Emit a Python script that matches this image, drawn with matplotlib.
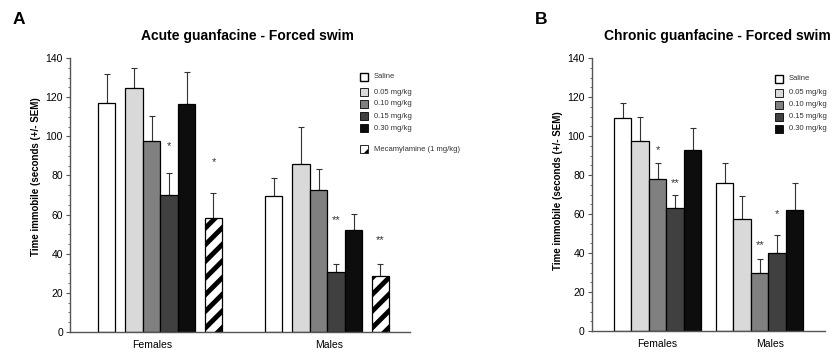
import matplotlib
matplotlib.use("Agg")
import matplotlib.pyplot as plt
from matplotlib.patches import Rectangle, Polygon
from matplotlib.ticker import MultipleLocator

plt.rcParams["font.family"] = ["Liberation Sans", "DejaVu Sans"]
plt.rcParams["hatch.linewidth"] = 3.5

# ---- data -------------------------------------------------------------
groups = ["Females", "Males"]
doses = ["Saline", "0.05 mg/kg", "0.10 mg/kg", "0.15 mg/kg", "0.30 mg/kg"]
dose_colors = ["white", "#d9d9d9", "#808080", "#404040", "#0d0d0d"]

# acute (panel A): rows = groups, cols = doses
acute_mean = [[117, 124.7, 97.5, 70, 116.5], [69.5, 86, 72.5, 30.5, 52]]
acute_top = [[132, 135, 110.5, 81, 133], [78.5, 105, 83.5, 34.5, 60.5]]
mec_mean = [58.5, 28.5]
mec_top = [71, 34.5]
acute_stars = [("*", 0, 3, 95), ("*", 0, 5, 87), ("**", 1, 3, 57), ("**", 1, 5, 47)]

# chronic (panel B)
chronic_mean = [[109.4, 97.5, 78, 63, 93], [76, 57.5, 30, 40, 62]]
chronic_top = [[117, 110, 86, 70, 104], [86, 69, 37, 49, 76]]
chronic_stars = [("*", 0, 2, 93), ("**", 0, 3, 76), ("**", 1, 2, 44), ("*", 1, 3, 60)]

ylabel = "Time immobile (seconds (+/- SEM)"


def style_axis(ax, xmax, label_x, label_y):
    ax.set_xlim(0, xmax)
    ax.set_ylim(0, 140)
    ax.yaxis.set_major_locator(MultipleLocator(20))
    ax.yaxis.set_minor_locator(MultipleLocator(5))
    for s in ["top", "right"]:
        ax.spines[s].set_visible(False)
    for s in ["left", "bottom"]:
        ax.spines[s].set_color("#555555")
        ax.spines[s].set_linewidth(1.0)
    ax.tick_params(axis="y", which="major", direction="out", length=3, width=0.8,
                   color="#555555", labelsize=7.5, pad=2)
    ax.tick_params(axis="y", which="minor", direction="out", length=1.5, width=0.6,
                   color="#555555")
    ax.tick_params(axis="x", length=0, labelsize=7.5, pad=6)
    ax.set_ylabel(ylabel, fontsize=7, fontweight="bold")
    ax.yaxis.set_label_coords(label_x, label_y)


def draw_bar(ax, x, mean, top, **kw):
    ax.bar(x, mean, width=1, align="edge", edgecolor="black", linewidth=0.9,
           zorder=2, **kw)
    ax.errorbar(x + 0.5, mean, yerr=[[0], [top - mean]], fmt="none",
                ecolor="#333333", elinewidth=0.8, capsize=2, capthick=0.8, zorder=1)


def draw_legend(fig, x, ys, labels, colors, hatch_last=False):
    for i, (y, lab) in enumerate(zip(ys, labels)):
        h = hatch_last and i == len(labels) - 1
        x0, y0 = x / 839, 1 - (y + 4) / 354
        w, hgt = 8 / 839, 8 / 354
        if h:
            # striped key: white square with a black corner
            fig.patches.append(Polygon([(x0 + 0.5 * w, y0), (x0 + w, y0),
                                        (x0 + w, y0 + 0.5 * hgt)],
                                       closed=True, transform=fig.transFigure,
                                       facecolor="black", edgecolor="none"))
        fig.patches.append(Rectangle((x0, y0), w, hgt, transform=fig.transFigure,
                                     facecolor="none" if h else colors[i],
                                     edgecolor="black", linewidth=1.0 if i == 0 else 0.6))
        fig.text((x + 14) / 839, 1 - y / 354, lab, fontsize=5.5, va="center",
                 color="#333333")


fig = plt.figure(figsize=(8.39, 3.54), dpi=100)

# ---- panel A ----------------------------------------------------------
axA = fig.add_axes([70 / 839, 22 / 354, 340 / 839, 274 / 354])
starts_a = [1.6, 11.14]
for g, s in enumerate(starts_a):
    draw_bar(axA, s, acute_mean[g][0], acute_top[g][0], color=dose_colors[0])
    for d in range(1, 5):
        draw_bar(axA, s + 0.57 + d, acute_mean[g][d], acute_top[g][d],
                 color=dose_colors[d])
    draw_bar(axA, s + 6.1, mec_mean[g], mec_top[g], color="white", hatch="//")
for lab, g, d, y in acute_stars:
    xs = starts_a[g] + (6.1 if d == 5 else 0.57 + d) + 0.5
    axA.text(xs, y, lab, ha="center", va="center", fontsize=8, color="#333333")
style_axis(axA, 19.43, -0.084, 0.567)
axA.set_xticks([4.69, 14.8])
axA.set_xticklabels(groups)
fig.text(247 / 839, 1 - 36 / 354, "Acute guanfacine - Forced swim", ha="center",
         va="center", fontsize=10, fontweight="bold")
fig.text(13 / 839, 1 - 19 / 354, "A", fontsize=12.5, fontweight="bold", va="center")
draw_legend(fig, 360, [77, 92, 104, 116, 128, 149],
            doses + ["Mecamylamine (1 mg/kg)"], dose_colors, hatch_last=True)

# ---- panel B ----------------------------------------------------------
axB = fig.add_axes([591.7 / 839, 23 / 354, 233.3 / 839, 273 / 354])
starts_b = [1.27, 7.1]
for g, s in enumerate(starts_b):
    for d in range(5):
        draw_bar(axB, s + d, chronic_mean[g][d], chronic_top[g][d],
                 color=dose_colors[d])
for lab, g, d, y in chronic_stars:
    axB.text(starts_b[g] + d + 0.5, y, lab, ha="center", va="center", fontsize=8,
             color="#333333")
style_axis(axB, 13.33, -0.121, 0.516)
axB.set_xticks([3.76, 10.2])
axB.set_xticklabels(groups)
fig.text(717 / 839, 1 - 36 / 354, "Chronic guanfacine - Forced swim", ha="center",
         va="center", fontsize=10, fontweight="bold")
fig.text(535 / 839, 1 - 19 / 354, "B", fontsize=12.5, fontweight="bold", va="center")
draw_legend(fig, 775, [79, 93, 105, 117, 129], doses, dose_colors)

fig.savefig("out.png", dpi=100)
